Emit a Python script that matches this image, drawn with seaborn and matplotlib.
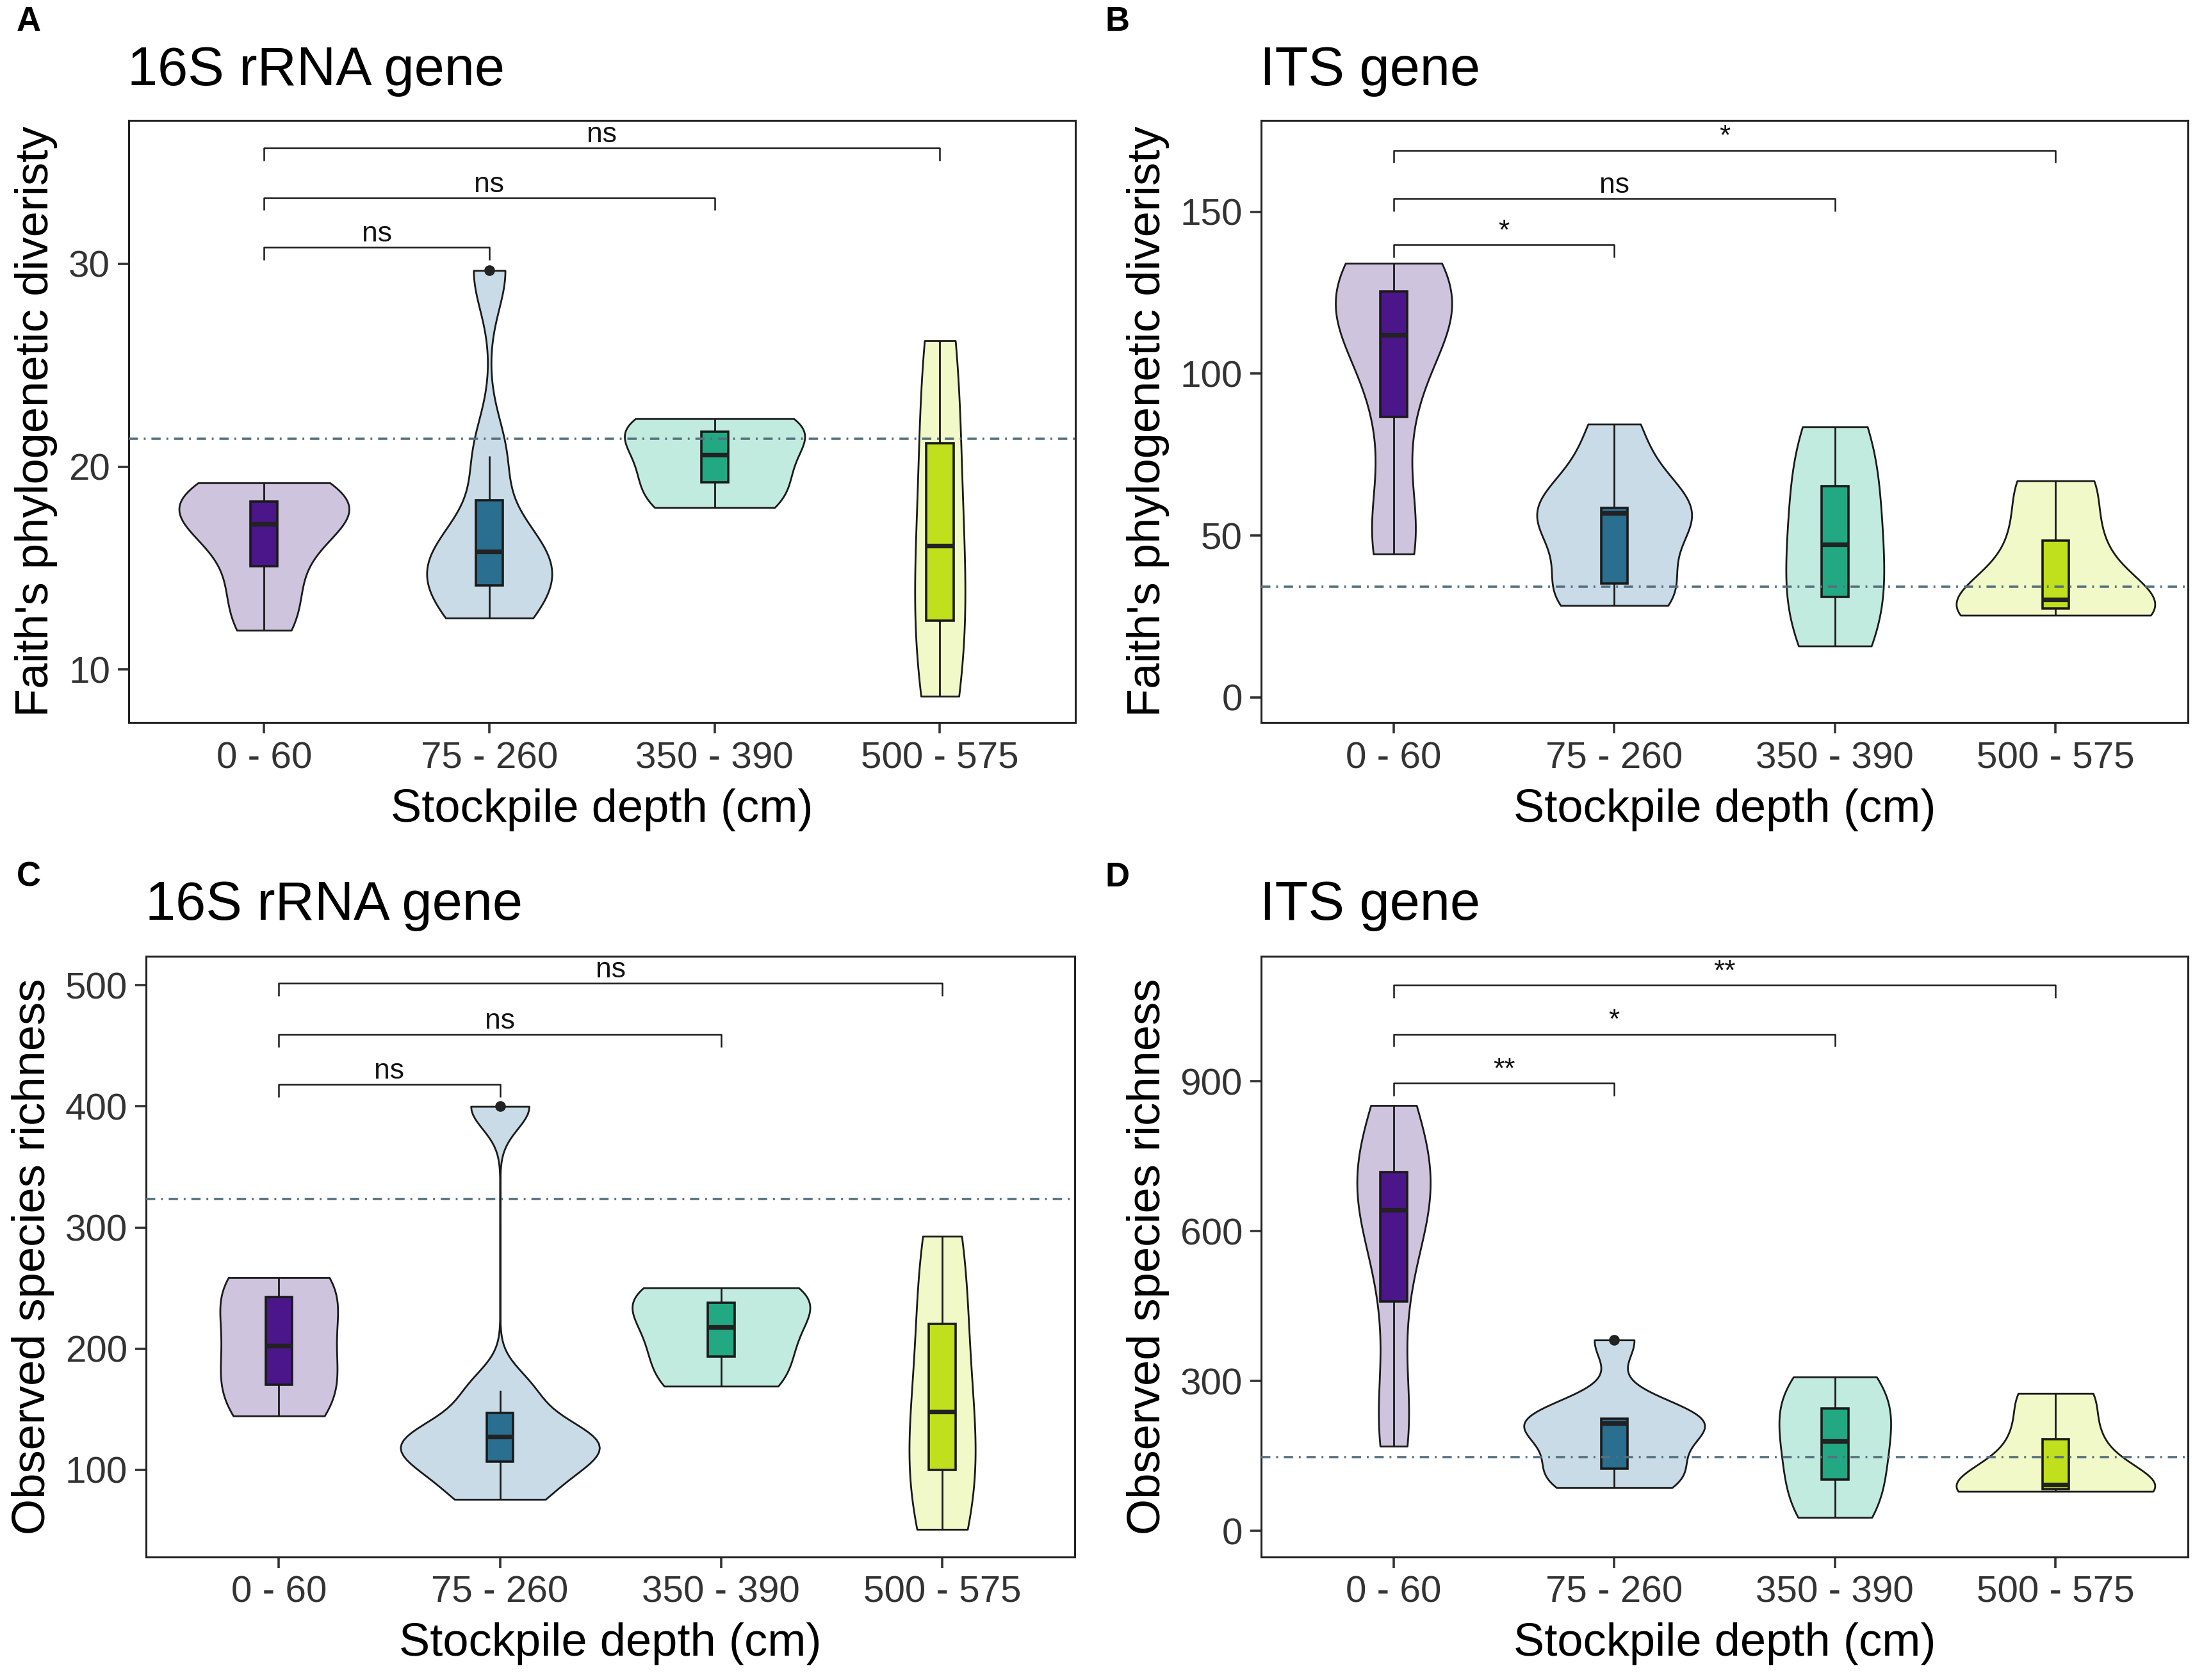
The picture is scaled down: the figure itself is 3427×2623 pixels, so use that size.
import numpy as np
import pandas as pd
import matplotlib
matplotlib.use("Agg")
import matplotlib.pyplot as plt
import seaborn as sns

# ---------------- data ----------------
depths = ["0 - 60", "75 - 260", "350 - 390", "500 - 575"]

# Panel A: Faith's PD, 16S rRNA gene
a_0_60 = [11.94, 13.5, 15.08, 16.6, 17.17, 17.8, 18.27, 18.9, 19.2]
a_75_260 = [12.54, 13.6, 14.72, 15.81, 16.18, 20.52, 29.66]
a_350_390 = [17.98, 19.66, 21.5, 22.36]
a_500_575 = [8.69, 12.41, 16.1, 21.15, 26.2]

# Panel B: Faith's PD, ITS gene
b_0_60 = [44.3, 55.0, 86.7, 110.0, 112.0, 122.0, 125.4, 131.0, 134.1]
b_75_260 = [28.4, 31.0, 35.2, 48.0, 56.9, 57.5, 58.5, 70.0, 84.4]
b_350_390 = [15.9, 31.1, 47.2, 65.2, 83.6]
b_500_575 = [25.4, 27.4, 30.2, 48.4, 66.9]

# Panel C: observed species richness, 16S rRNA gene
c_0_60 = [144.5, 170.3, 202.7, 242.6, 258.6]
c_75_260 = [75.6, 100.5, 112.9, 127.6, 129.0, 165.4, 400.0]
c_350_390 = [169.0, 201.5, 234.1, 250.2]
c_500_575 = [50.8, 100.0, 148.0, 220.4, 292.8]

# Panel D: observed species richness, ITS gene
d_0_60 = [169.6, 260.0, 459.5, 600.0, 643.0, 690.0, 718.5, 790.0, 851.4]
d_75_260 = [86.4, 100.0, 124.2, 160.0, 216.0, 220.0, 225.0, 225.5, 382.0]
d_350_390 = [27.0, 102.6, 180.0, 245.0, 308.0]
d_500_575 = [79.0, 83.6, 92.0, 184.0, 275.0]

# reference (dash-dot) lines
ref_lines = [21.36, 34.3, 323.5, 147.5]

# significance comparisons
sig_pairs = [(0, 1), (0, 2), (0, 3)]
a_sig_labels = ["ns", "ns", "ns"]
a_sig_heights = [30.8, 33.25, 35.7]
b_sig_labels = ["*", "ns", "*"]
b_sig_heights = [139.8, 154.1, 169.0]
c_sig_labels = ["ns", "ns", "ns"]
c_sig_heights = [418.2, 459.5, 501.8]
d_sig_labels = ["**", "*", "**"]
d_sig_heights = [895.7, 994.0, 1092.0]

panel_letters = ["A", "B", "C", "D"]
titles = ["16S rRNA gene", "ITS gene", "16S rRNA gene", "ITS gene"]
ylabels = ["Faith's phylogenetic diveristy", "Faith's phylogenetic diveristy",
           "Observed species richness", "Observed species richness"]
xlabel = "Stockpile depth (cm)"
yticks = [[10, 20, 30], [0, 50, 100, 150], [100, 200, 300, 400, 500], [0, 300, 600, 900]]
ylims = [(7.4, 37.05), (-7.7, 178.2), (28.1, 524.0), (-52.0, 1150.0)]
violin_widths = [0.8, 0.9, 0.9, 0.9]

violin_colors = ["#cec4de", "#c8dbe6", "#c2ebdf", "#f2f9c8"]
box_colors = ["#4a168a", "#2a6e90", "#22a883", "#c0df1d"]

panels = [
    [a_0_60, a_75_260, a_350_390, a_500_575],
    [b_0_60, b_75_260, b_350_390, b_500_575],
    [c_0_60, c_75_260, c_350_390, c_500_575],
    [d_0_60, d_75_260, d_350_390, d_500_575],
]
sig_labels = [a_sig_labels, b_sig_labels, c_sig_labels, d_sig_labels]
sig_heights = [a_sig_heights, b_sig_heights, c_sig_heights, d_sig_heights]


def nrd0(kde):
    """R's bw.nrd0 rule, returned as a scale factor of the sample sd."""
    x = np.asarray(kde.dataset).ravel()
    n = x.size
    sd = x.std(ddof=1)
    q75, q25 = np.percentile(x, [75, 25])
    lo = min(sd, (q75 - q25) / 1.34)
    if lo <= 0:
        lo = sd
    h = 0.9 * lo * n ** (-0.2)
    return h / sd


# ---------------- figure ----------------
sns.set_theme(style="white")
plt.rcParams["font.family"] = ["Liberation Sans", "DejaVu Sans"]

W, H = 3427, 2623
fig = plt.figure(figsize=(W / 200, H / 200), dpi=200)

rects = [
    [0.0587, 0.570, 0.4311, 0.3583],
    [0.5746, 0.570, 0.4222, 0.3583],
    [0.0666, 0.0733, 0.4231, 0.3575],
    [0.5746, 0.0733, 0.4222, 0.3575],
]
title_y = [0.9493, 0.9493, 0.4525, 0.4525]
letter_pos = [(0.0075, 0.9817), (0.5036, 0.9817), (0.0075, 0.4724), (0.5036, 0.4724)]

tick_col = "#333333"
line_col = "#1a1a1a"

for k in range(4):
    ax = fig.add_axes(rects[k])
    groups = panels[k]
    df = pd.DataFrame({
        "depth": pd.Categorical(np.repeat(depths, [len(g) for g in groups]), categories=depths),
        "value": np.concatenate(groups),
    })
    sns.violinplot(data=df, x="depth", y="value", hue="depth", order=depths, hue_order=depths,
                   palette=violin_colors, legend=False, inner=None, cut=0, bw_method=nrd0,
                   density_norm="area", common_norm=True, width=violin_widths[k], linewidth=1.0,
                   linecolor=line_col, saturation=1, ax=ax)
    sns.boxplot(data=df, x="depth", y="value", hue="depth", order=depths, hue_order=depths,
                palette=box_colors, legend=False, width=0.12, saturation=1, linewidth=1.3,
                linecolor=line_col, showcaps=False,
                whiskerprops=dict(linewidth=1.0),
                medianprops=dict(color="#222222", linewidth=2.6),
                flierprops=dict(marker="o", markersize=5, markerfacecolor="#222222",
                                markeredgecolor="#222222"),
                ax=ax)
    ax.axhline(ref_lines[k], color="#55707e", linewidth=1.3,
               linestyle=(0, (4.0, 2.5, 0.8, 2.5)), zorder=10)

    ax.set_xlim(-0.6, 3.6)
    ax.set_ylim(*ylims[k])
    ax.set_yticks(yticks[k])
    yr = ylims[k][1] - ylims[k][0]
    tip = 0.021 * yr
    for (i, j), lab, yh in zip(sig_pairs, sig_labels[k], sig_heights[k]):
        ax.plot([i, i, j, j], [yh - tip, yh, yh, yh - tip], color=line_col, linewidth=0.9,
                solid_capstyle="butt", zorder=11)
        ax.text((i + j) / 2, yh, lab, ha="center", va="bottom", fontsize=16, color="#111111")

    for s in ax.spines.values():
        s.set_visible(True)
        s.set_color("#222222")
        s.set_linewidth(1.1)
    ax.tick_params(axis="both", which="both", direction="out", length=6, width=1.3,
                   color="#333333", labelsize=21, labelcolor=tick_col, pad=4.5,
                   bottom=True, left=True)
    ax.set_xlabel(xlabel, fontsize=26, color="black", labelpad=7)
    ax.set_ylabel(ylabels[k], fontsize=26, color="black", labelpad=6)
    ax.grid(False)

    fig.text(rects[k][0] - 0.0005, title_y[k], titles[k], fontsize=30.5, ha="left",
             va="baseline", color="black")
    fig.text(letter_pos[k][0], letter_pos[k][1], panel_letters[k], fontsize=19,
             fontweight="bold", ha="left", va="baseline", color="black")

fig.savefig("out.png", dpi=200, facecolor="white")
